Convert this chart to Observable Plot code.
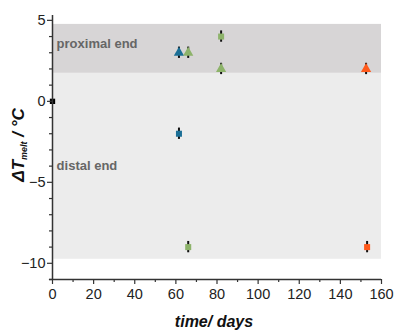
<!DOCTYPE html>
<html><head><meta charset="utf-8">
<script src="https://cdn.jsdelivr.net/npm/d3@7"></script>
<script src="https://cdn.jsdelivr.net/npm/@observablehq/plot@0.6"></script>
<style>body{margin:0;background:#fff;font-family:"Liberation Sans",Arial,sans-serif}</style>
</head><body><div id="chart"></div>
<script>
const days   = [0, 61.5, 61.5, 66, 66, 82, 82, 152.5, 153];
const deltaT = [0, 3, -2, 3, -9, 4, 2, 2, -9];
const errors = [0, 0.35, 0.35, 0.35, 0.35, 0.35, 0.35, 0.35, 0.35];
const shapes = ["square","triangle","square","triangle","square","square","triangle","triangle","square"];
const groups = ["ref","blue","blue","green","green","green","green","orange","orange"];
const bandNames = ["distal end","proximal end"];
const bandLow  = [-9.75, 1.73];
const bandHigh = [1.73, 4.75];
const xTicks = [0,20,40,60,80,100,120,140,160];
const yTicks = [5,0,-5,-10];

const colors = {ref:"#000000", blue:"#1b6f96", green:"#8db36a", orange:"#ff5a1c"};
const pts = days.map((d,i)=>({day:d, dT:deltaT[i], err:errors[i], shape:shapes[i], group:groups[i]}));
const bands = bandNames.map((n,i)=>({name:n, lo:bandLow[i], hi:bandHigh[i]}));

const plot = Plot.plot({
  width:395, height:331,
  marginLeft:52, marginRight:14, marginTop:15, marginBottom:52,
  style:{fontFamily:"Liberation Sans, Arial, sans-serif", fontSize:"14.5px", color:"#222", background:"#fff"},
  x:{domain:[0,160]},
  y:{domain:[-11,5.3]},
  marks:[
    Plot.rect(bands,{x1:0,x2:160,y1:"lo",y2:"hi",fill:(d)=>d.name==="proximal end"?"#d7d5d6":"#ececec"}),
    Plot.text(bands,{x:2,y:(d)=>d.name==="proximal end"?3.55:-4,text:"name",textAnchor:"start",fill:"#666",fontWeight:"bold",fontSize:13}),
    Plot.ruleX(pts.filter(d=>d.err>0),{x:"day",y1:d=>d.dT-d.err,y2:d=>d.dT+d.err,stroke:"#111",strokeWidth:2}),
    Plot.dot(pts.filter(d=>d.shape==="square"&&d.group!=="ref"),{x:"day",y:"dT",symbol:"square",r:3.4,fill:d=>colors[d.group],stroke:"none"}),
    Plot.dot(pts.filter(d=>d.shape==="triangle"),{x:"day",y:"dT",symbol:"triangle",r:3.8,fill:d=>colors[d.group],stroke:"none"}),
    Plot.dot(pts.filter(d=>d.group==="ref"),{x:"day",y:"dT",symbol:"square",r:3,fill:"#000",stroke:"none"}),
    Plot.axisX({ticks:d3.range(10,160,20),tickSize:3,text:null,stroke:"#333",strokeWidth:1.2,label:null}),
    Plot.axisX({ticks:xTicks,tickSize:5,tickPadding:4,stroke:"#333",strokeWidth:1.2,label:null,fill:"#222"}),
    Plot.axisY({ticks:d3.range(-11,6,1).filter(v=>v%5!==0),tickSize:3,text:null,stroke:"#333",strokeWidth:1.2,label:null}),
    Plot.axisY({ticks:yTicks,tickSize:5,tickPadding:2,stroke:"#333",strokeWidth:1.2,label:null,fill:"#222"}),
    Plot.ruleX([0],{stroke:"#333",strokeWidth:1.5}),
    Plot.ruleY([-11],{stroke:"#333",strokeWidth:1.5,x1:-1.5,x2:160})
  ]
});
document.getElementById("chart").appendChild(plot);
const svg = d3.select(plot);
svg.append("text").attr("x",214).attr("y",327).attr("text-anchor","middle")
  .attr("font-weight","bold").attr("font-style","italic").attr("font-size",16).attr("fill","#111")
  .text("time/ days");
const yl = svg.append("text").attr("transform","translate(24,145) rotate(-90)").attr("text-anchor","middle")
  .attr("font-weight","bold").attr("font-style","italic").attr("font-size",17).attr("fill","#111");
yl.append("tspan").text("ΔT");
yl.append("tspan").attr("font-size",9).attr("dy",3).text("melt");
yl.append("tspan").attr("dy",-3).text(" / °C");
</script></body></html>
